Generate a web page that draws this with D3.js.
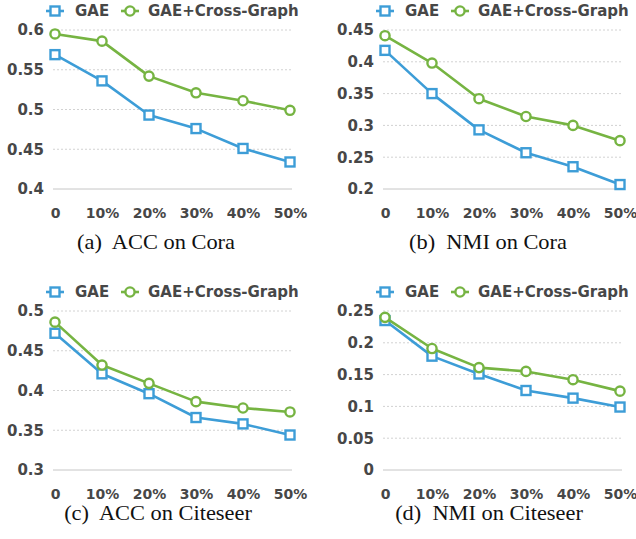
<!DOCTYPE html>
<html>
<head>
<meta charset="utf-8">
<script src="https://cdn.jsdelivr.net/npm/d3@7"></script>
<style>
  html, body { margin: 0; padding: 0; background: #fff; }
  svg { display: block; }
</style>
</head>
<body>
<svg id="chart" width="636" height="539"></svg>
<script>
// ---------------- data ----------------
const categories = ["0", "10%", "20%", "30%", "40%", "50%"];
const seriesNames = ["GAE", "GAE+Cross-Graph"];

const accCoraGAE   = [0.569, 0.536, 0.493, 0.476, 0.451, 0.434];
const accCoraCross = [0.595, 0.586, 0.542, 0.521, 0.511, 0.499];
const nmiCoraGAE   = [0.418, 0.350, 0.293, 0.257, 0.235, 0.207];
const nmiCoraCross = [0.441, 0.398, 0.342, 0.314, 0.300, 0.276];
const accCiteGAE   = [0.472, 0.421, 0.396, 0.366, 0.358, 0.344];
const accCiteCross = [0.486, 0.432, 0.409, 0.386, 0.378, 0.373];
const nmiCiteGAE   = [0.235, 0.179, 0.151, 0.125, 0.113, 0.099];
const nmiCiteCross = [0.240, 0.191, 0.161, 0.155, 0.142, 0.124];

const yTicksAccCora = [0.4, 0.45, 0.5, 0.55, 0.6];
const yTicksNmiCora = [0.2, 0.25, 0.3, 0.35, 0.4, 0.45];
const yTicksAccCite = [0.3, 0.35, 0.4, 0.45, 0.5];
const yTicksNmiCite = [0, 0.05, 0.1, 0.15, 0.2, 0.25];

const captions = ["(a)  ACC on Cora", "(b)  NMI on Cora", "(c)  ACC on Citeseer", "(d)  NMI on Citeseer"];

// ---------------- layout / style ----------------
const colors = ["#3d9dd7", "#76b442"];
const textColor = "#474747";
const tickFont = "'DejaVu Sans', sans-serif";

const panels = [
  { gae: accCoraGAE, cross: accCoraCross, ticks: yTicksAccCora, cap: captions[0],
    x0: 55, x1: 290, y0: 30, y1: 189, capX: 156, capY: 249 },
  { gae: nmiCoraGAE, cross: nmiCoraCross, ticks: yTicksNmiCora, cap: captions[1],
    x0: 385, x1: 620, y0: 30, y1: 189, capX: 488, capY: 249 },
  { gae: accCiteGAE, cross: accCiteCross, ticks: yTicksAccCite, cap: captions[2],
    x0: 55, x1: 290, y0: 311, y1: 470, capX: 158, capY: 520 },
  { gae: nmiCiteGAE, cross: nmiCiteCross, ticks: yTicksNmiCite, cap: captions[3],
    x0: 385, x1: 620, y0: 311, y1: 470, capX: 489, capY: 520 }
];

const svg = d3.select("#chart");

function drawMarker(g, kind, cx, cy, color) {
  if (kind === 0) {
    g.append("rect")
      .attr("x", cx - 4.5).attr("y", cy - 4.5)
      .attr("width", 9).attr("height", 9)
      .attr("fill", "#fff").attr("stroke", color).attr("stroke-width", 2.4);
  } else {
    g.append("circle")
      .attr("cx", cx).attr("cy", cy).attr("r", 4.6)
      .attr("fill", "#fff").attr("stroke", color).attr("stroke-width", 2.4);
  }
}

panels.forEach(p => {
  const g = svg.append("g");
  const x = d3.scalePoint().domain(categories).range([p.x0, p.x1]);
  const y = d3.scaleLinear()
    .domain([p.ticks[0], p.ticks[p.ticks.length - 1]])
    .range([p.y1, p.y0]);

  // grid lines
  p.ticks.forEach((t, i) => {
    g.append("line")
      .attr("x1", p.x0 - 2).attr("x2", p.x1 + 2)
      .attr("y1", y(t)).attr("y2", y(t))
      .attr("stroke", i === 0 ? "#c6c6c6" : "#d2d2d2")
      .attr("stroke-width", 1)
      .attr("stroke-dasharray", i === 0 ? null : "2,2");
  });

  // y axis labels
  const yAxis = d3.axisLeft(y).tickValues(p.ticks).tickSize(0).tickPadding(11)
    .tickFormat(d => String(+d.toFixed(2)));
  const ya = g.append("g").attr("transform", `translate(${p.x0},0)`).call(yAxis);
  ya.select(".domain").remove();
  ya.selectAll("text")
    .attr("font-family", tickFont).attr("font-weight", "bold")
    .attr("font-size", 15).attr("fill", textColor);

  // x axis labels
  const xAxis = d3.axisBottom(x).tickSize(0).tickPadding(19);
  const xa = g.append("g").attr("transform", `translate(0,${p.y1})`).call(xAxis);
  xa.select(".domain").remove();
  xa.selectAll("text")
    .attr("font-family", tickFont).attr("font-weight", "bold")
    .attr("font-size", 14).attr("fill", textColor);

  // series
  [p.gae, p.cross].forEach((vals, si) => {
    const line = d3.line().x((d, i) => x(categories[i])).y(d => y(d));
    g.append("path").datum(vals)
      .attr("d", line).attr("fill", "none")
      .attr("stroke", colors[si]).attr("stroke-width", 2.6)
      .attr("stroke-linejoin", "round");
    vals.forEach((v, i) => drawMarker(g, si, x(categories[i]), y(v), colors[si]));
  });

  // legend
  const ly = p.y0 - 19;
  const legendOffsets = [{ m: 0, t: 20 }, { m: 75, t: 93 }];
  seriesNames.forEach((name, si) => {
    const mx = p.x0 + legendOffsets[si].m;
    g.append("line")
      .attr("x1", mx - 9).attr("x2", mx + 9)
      .attr("y1", ly).attr("y2", ly)
      .attr("stroke", colors[si]).attr("stroke-width", 2.6);
    drawMarker(g, si, mx, ly, colors[si]);
    g.append("text")
      .attr("x", p.x0 + legendOffsets[si].t).attr("y", ly)
      .attr("dy", "0.36em")
      .attr("font-family", tickFont).attr("font-weight", "bold")
      .attr("font-size", 15).attr("fill", textColor)
      .text(name);
  });

  // caption
  g.append("text")
    .attr("x", 0).attr("y", 0)
    .attr("transform", `translate(${p.capX},${p.capY}) scale(1.12,1)`)
    .attr("text-anchor", "middle")
    .attr("font-family", "'Liberation Serif', 'Times New Roman', serif")
    .attr("font-size", 20).attr("fill", "#111")
    .style("white-space", "pre")
    .text(p.cap);
});
</script>
</body>
</html>
